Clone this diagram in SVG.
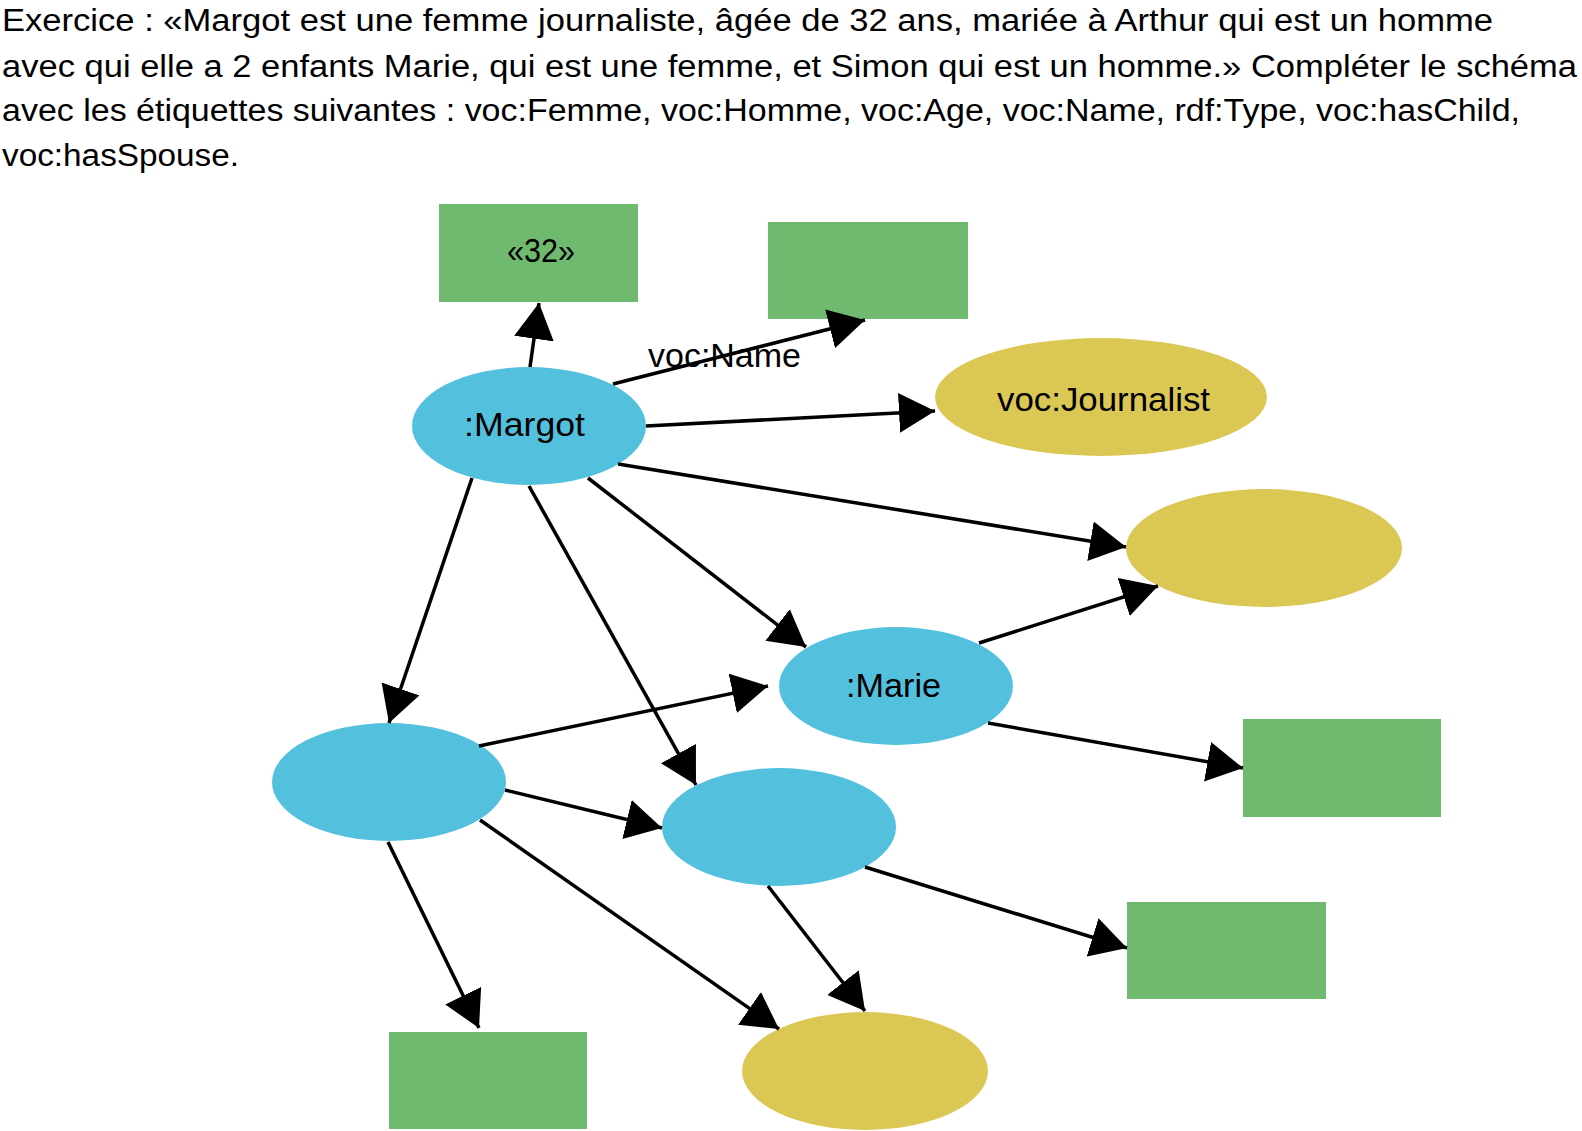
<svg xmlns="http://www.w3.org/2000/svg" width="1582" height="1131" viewBox="0 0 1582 1131">
<defs>
<style>
.hdr{font-family:"Liberation Sans",Arial,sans-serif;font-size:31px;fill:#000}
.lbl{font-family:"Liberation Sans",Arial,sans-serif;font-size:33px;fill:#000}
.lit{fill:#70BA70}
.res{fill:#53C1DE}
.cls{fill:#DBC854}
.edge{stroke:#000;stroke-width:3.5;fill:none;marker-end:url(#arr)}
</style>
<marker id="arr" markerUnits="userSpaceOnUse" markerWidth="36" markerHeight="40" refX="36" refY="20" orient="auto" viewBox="0 0 36 40">
<path d="M0,0 L36,20 L0,40 z" fill="#000"/>
</marker>
</defs>
<rect width="1582" height="1131" fill="#fff"/>
<g id="header">
<text class="hdr" x="2" y="31" textLength="1491" lengthAdjust="spacingAndGlyphs">Exercice : «Margot est une femme journaliste, âgée de 32 ans, mariée à Arthur qui est un homme</text>
<text class="hdr" x="2" y="77" textLength="1575" lengthAdjust="spacingAndGlyphs">avec qui elle a 2 enfants Marie, qui est une femme, et Simon qui est un homme.» Compléter le schéma</text>
<text class="hdr" x="2" y="121" textLength="1518" lengthAdjust="spacingAndGlyphs">avec les étiquettes suivantes : voc:Femme, voc:Homme, voc:Age, voc:Name, rdf:Type, voc:hasChild,</text>
<text class="hdr" x="2" y="166" textLength="237" lengthAdjust="spacingAndGlyphs">voc:hasSpouse.</text>
</g>
<g id="n-age"><rect class="lit" x="439" y="204" width="199" height="98"/><text class="lbl" x="541" y="262" text-anchor="middle" textLength="68" lengthAdjust="spacingAndGlyphs">«32»</text></g>
<g id="n-name"><rect class="lit" x="768" y="222" width="200" height="97"/></g>
<g id="n-margot"><ellipse class="res" cx="529" cy="426" rx="117" ry="59"/><text class="lbl" x="524.5" y="436" text-anchor="middle" textLength="121" lengthAdjust="spacingAndGlyphs">:Margot</text></g>
<g id="n-journalist"><ellipse class="cls" cx="1101" cy="397" rx="166" ry="59"/><text class="lbl" x="1103.5" y="411" text-anchor="middle" textLength="213" lengthAdjust="spacingAndGlyphs">voc:Journalist</text></g>
<g id="n-femme"><ellipse class="cls" cx="1264" cy="548" rx="138" ry="59"/></g>
<g id="n-marie"><ellipse class="res" cx="896" cy="686" rx="117" ry="59"/><text class="lbl" x="893.5" y="697" text-anchor="middle" textLength="95" lengthAdjust="spacingAndGlyphs">:Marie</text></g>
<g id="n-arthur"><ellipse class="res" cx="389" cy="782" rx="117" ry="59"/></g>
<g id="n-simon"><ellipse class="res" cx="779" cy="827" rx="117" ry="59"/></g>
<g id="n-marie-name"><rect class="lit" x="1243" y="719" width="198" height="98"/></g>
<g id="n-simon-name"><rect class="lit" x="1127" y="902" width="199" height="97"/></g>
<g id="n-arthur-name"><rect class="lit" x="389" y="1032" width="198" height="97"/></g>
<g id="n-homme"><ellipse class="cls" cx="865" cy="1071" rx="123" ry="59"/></g>
<g id="connectors">
<line class="edge" x1="530" y1="367" x2="539" y2="303"/>
<line class="edge" x1="613" y1="384" x2="865" y2="320"/>
<line class="edge" x1="646" y1="426" x2="935" y2="411"/>
<line class="edge" x1="618" y1="464" x2="1126" y2="547"/>
<line class="edge" x1="588" y1="478" x2="806" y2="647"/>
<line class="edge" x1="529" y1="486" x2="696" y2="785"/>
<line class="edge" x1="472" y1="478" x2="389" y2="723"/>
<line class="edge" x1="479" y1="746" x2="768" y2="686"/>
<line class="edge" x1="505" y1="790" x2="662" y2="828"/>
<line class="edge" x1="388" y1="842" x2="479" y2="1028"/>
<line class="edge" x1="480" y1="820" x2="779" y2="1029"/>
<line class="edge" x1="979" y1="643" x2="1158" y2="586"/>
<line class="edge" x1="988" y1="723" x2="1243" y2="768"/>
<line class="edge" x1="865" y1="867" x2="1127" y2="948"/>
<line class="edge" x1="768" y1="886" x2="865" y2="1011"/>
<text class="lbl" x="648" y="367" textLength="153" lengthAdjust="spacingAndGlyphs">voc:Name</text>
</g>
</svg>
